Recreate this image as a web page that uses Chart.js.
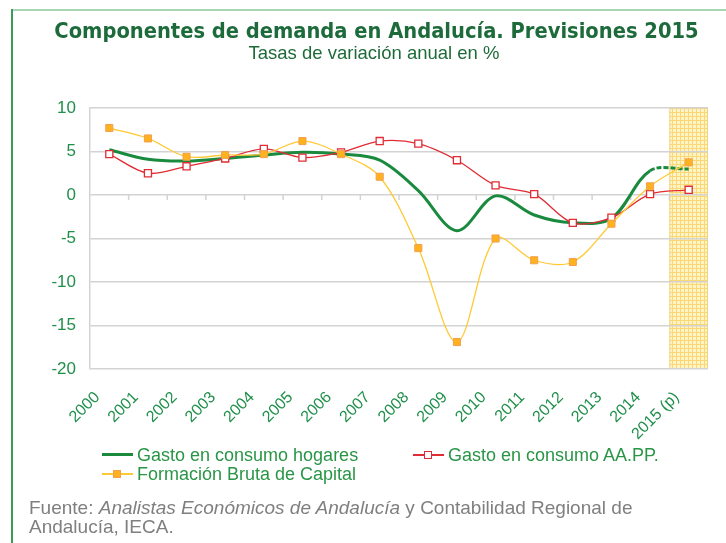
<!DOCTYPE html>
<html><head><meta charset="utf-8">
<script src="https://cdn.jsdelivr.net/npm/chart.js@4.4.0/dist/chart.umd.min.js"></script>
<style>
html,body{margin:0;padding:0;background:#fff;}
#wrap{position:relative;width:726px;height:543px;overflow:hidden;font-family:"Liberation Sans",Arial,sans-serif;}
#c{position:absolute;left:0;top:0;}
.frameTop{position:absolute;left:12px;top:9px;width:714px;height:2px;background:#a6d6b3;}
.frameLeft{position:absolute;left:11px;top:9px;width:2px;height:534px;background:#3c9c58;}
#title{position:absolute;left:0;width:753px;top:18px;text-align:center;font-family:"DejaVu Sans Condensed","DejaVu Sans",sans-serif;font-weight:bold;font-size:21.7px;line-height:26px;color:#1d6b3b;white-space:nowrap;}
#subtitle{position:absolute;left:0;width:748px;top:42px;text-align:center;font-size:18.5px;line-height:21px;color:#1e6b3a;white-space:nowrap;}
.lg{position:absolute;font-size:18px;line-height:20px;color:#2a9547;white-space:nowrap;}
.ln{position:absolute;}
.sq{position:absolute;box-sizing:border-box;}
#foot{position:absolute;left:29px;top:498px;font-size:19px;line-height:19px;color:#7f7f7f;white-space:nowrap;}
</style>
</head><body>
<div id="wrap">
<canvas id="c" width="726" height="543"></canvas>
<div class="frameTop"></div><div class="frameLeft"></div>
<div id="title">Componentes de demanda en Andalucía. Previsiones 2015</div>
<div id="subtitle">Tasas de variación anual en %</div>

<div class="ln" style="left:102px;top:453px;width:31px;height:3px;background:#1a8a3e;"></div>
<div class="lg" style="left:137px;top:445px;">Gasto en consumo hogares</div>

<div class="ln" style="left:413px;top:454px;width:31px;height:1.5px;background:#e02c34;"></div>
<div class="sq" style="left:424px;top:451px;width:8px;height:8px;background:#fff;border:1.5px solid #e02c34;"></div>
<div class="lg" style="left:448px;top:445px;">Gasto en consumo AA.PP.</div>

<div class="ln" style="left:102px;top:473px;width:31px;height:1.5px;background:#ffc933;"></div>
<div class="sq" style="left:113px;top:470px;width:8px;height:8px;background:#ffb21e;border:1px solid #f0a050;"></div>
<div class="lg" style="left:137px;top:464px;">Formación Bruta de Capital</div>

<div id="foot">Fuente: <i>Analistas Económicos de Andalucía</i> y Contabilidad Regional de<br>Andalucía, IECA.</div>
</div>
<script>
const categories = ['2000','2001','2002','2003','2004','2005','2006','2007','2008','2009','2010','2011','2012','2013','2014','2015 (p)'];
const hogares = [5.2, 4.1, 3.9, 4.2, 4.6, 4.9, 4.7, 4.0, 0.5, -4.1, -0.1, -2.3, -3.2, -2.7, 2.8, 3.0];
const aapp    = [4.7, 2.5, 3.3, 4.2, 5.3, 4.3, 4.9, 6.2, 5.9, 4.0, 1.1, 0.1, -3.2, -2.6, 0.1, 0.6];
const fbc     = [7.7, 6.5, 4.4, 4.6, 4.7, 6.2, 4.7, 2.1, -6.1, -16.9, -5.0, -7.5, -7.7, -3.3, 1.0, 3.75];
const yMin = -20, yMax = 10, yStep = 5;

const green = '#1a8a3e', red = '#e02c34', yellow = '#ffc933', orange = '#ffb21e';
const axisTextColor = '#1f8f4a', gridColor = '#d3d3d3';

function makePattern(ctx) {
  const p = document.createElement('canvas');
  p.width = 4; p.height = 4;
  const pc = p.getContext('2d');
  pc.fillStyle = '#fff4c8'; pc.fillRect(0,0,4,4);
  pc.fillStyle = '#fbd874'; pc.fillRect(0,0,4,1); pc.fillRect(0,0,1,4);
  return ctx.createPattern(p, 'repeat');
}

const forecastPlugin = {
  id: 'forecast',
  beforeDraw(chart) {
    const {ctx, chartArea, scales} = chart;
    const x0 = scales.x.getPixelForValue(categories.length - 1.5);
    const x1 = chartArea.right;
    ctx.save();
    ctx.fillStyle = makePattern(ctx);
    ctx.fillRect(x0, chartArea.top, x1 - x0, chartArea.bottom - chartArea.top);
    ctx.strokeStyle = '#f3d27a'; ctx.lineWidth = 1;
    ctx.strokeRect(x0 + 0.5, chartArea.top + 0.5, x1 - x0 - 1, chartArea.bottom - chartArea.top - 1);
    ctx.restore();
  },
  beforeDatasetsDraw(chart) {
    const {ctx, scales} = chart;
    const y0 = scales.y.getPixelForValue(0);
    ctx.save();
    ctx.strokeStyle = gridColor; ctx.lineWidth = 1.5;
    ctx.beginPath();
    for (let i = 0; i < categories.length - 1; i++) {
      const x = scales.x.getPixelForValue(i + 0.5);
      ctx.moveTo(x, y0); ctx.lineTo(x, y0 + 5);
    }
    ctx.stroke();
    ctx.restore();
  }
};

new Chart(document.getElementById('c'), {
  type: 'line',
  data: {
    labels: categories,
    datasets: [
      { label: 'Gasto en consumo hogares', data: hogares, borderColor: green, borderWidth: 3,
        pointRadius: 0, tension: 0.33, order: 2,
        segment: { borderDash: c => c.p1DataIndex === categories.length - 1 ? [5, 2] : undefined } },
      { label: 'Gasto en consumo AA.PP.', data: aapp, borderColor: red, borderWidth: 1.3,
        pointStyle: 'rect', pointRadius: 5, pointBackgroundColor: '#ffffff', pointBorderColor: red,
        pointBorderWidth: 1.3, tension: 0.33, order: 1 },
      { label: 'Formación Bruta de Capital', data: fbc, borderColor: yellow, borderWidth: 1.3,
        pointStyle: 'rect', pointRadius: 5, pointBackgroundColor: orange, pointBorderColor: '#f0a050',
        pointBorderWidth: 1, tension: 0.33, order: 0 }
    ]
  },
  options: {
    responsive: false, animation: false, devicePixelRatio: 1,
    layout: { padding: { top: 108, left: 0, right: 18, bottom: 0 } },
    plugins: { legend: { display: false }, tooltip: { enabled: false }, title: { display: false } },
    scales: {
      x: {
        offset: true,
        grid: { display: false, drawTicks: false, offset: true },
        border: { display: false },
        ticks: { autoSkip: false, minRotation: 45, maxRotation: 45, padding: 19, labelOffset: -12,
                 color: axisTextColor, font: { family: '"Liberation Sans", Arial, sans-serif', size: 16 } },
        afterFit(s) { s.height = 543 - 369; }
      },
      y: {
        min: yMin, max: yMax,
        grid: { color: gridColor, lineWidth: 1.5, drawTicks: false },
        border: { display: true, color: gridColor, width: 1.5 },
        ticks: { stepSize: yStep, padding: 14, color: axisTextColor,
                 font: { family: '"Liberation Sans", Arial, sans-serif', size: 17 } },
        afterFit(s) { s.width = 90; }
      }
    }
  },
  plugins: [forecastPlugin]
});
</script>
</body></html>
